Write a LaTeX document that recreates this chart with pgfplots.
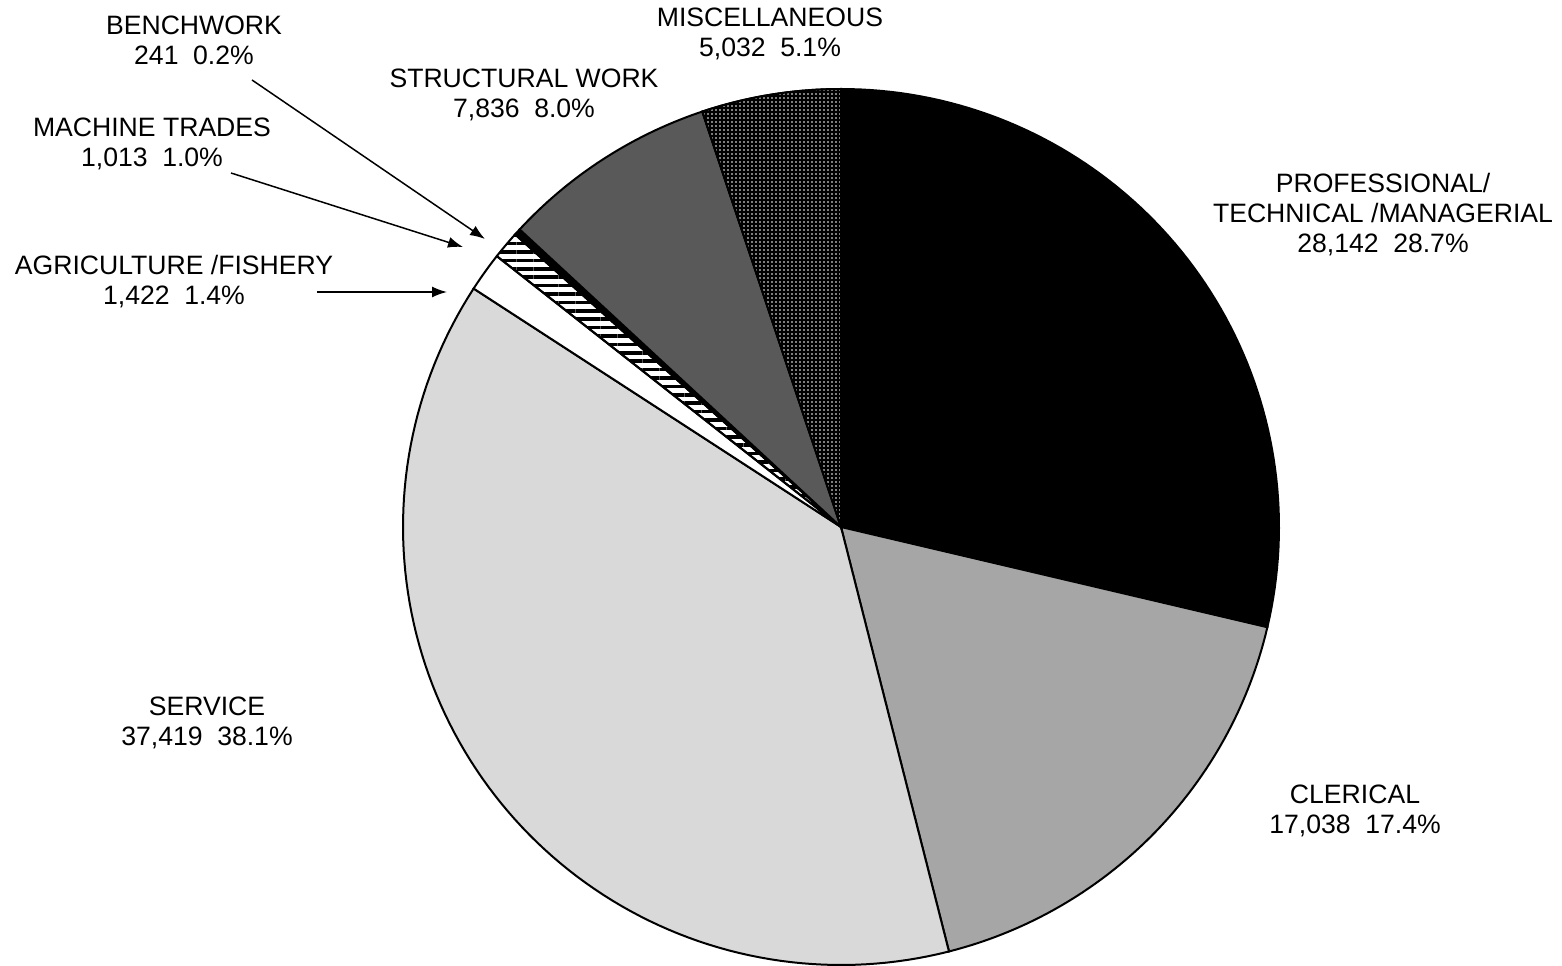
\documentclass[border=0pt]{standalone}
\usepackage{fontspec}
\setmainfont{Liberation Sans}
\usepackage{pgfplots}
\pgfplotsset{compat=1.18}
\usetikzlibrary{patterns,patterns.meta,arrows.meta}

% values (clockwise from 12 o'clock)
\def\vA{28142} % PROFESSIONAL/TECHNICAL/MANAGERIAL
\def\vB{17038} % CLERICAL
\def\vC{37419} % SERVICE
\def\vD{1422}  % AGRICULTURE/FISHERY
\def\vE{1013}  % MACHINE TRADES
\def\vF{241}   % BENCHWORK
\def\vG{7836}  % STRUCTURAL WORK
\def\vH{5032}  % MISCELLANEOUS

\edef\tot{\fpeval{\vA+\vB+\vC+\vD+\vE+\vF+\vG+\vH}}
\edef\aO{90}
\edef\aA{\fpeval{round(\aO-360*\vA/\tot,4)}}
\edef\aB{\fpeval{round(\aA-360*\vB/\tot,4)}}
\edef\aC{\fpeval{round(\aB-360*\vC/\tot,4)}}
\edef\aD{\fpeval{round(\aC-360*\vD/\tot,4)}}
\edef\aE{\fpeval{round(\aD-360*\vE/\tot,4)}}
\edef\aF{\fpeval{round(\aE-360*\vF/\tot,4)}}
\edef\aG{\fpeval{round(\aF-360*\vG/\tot,4)}}
\edef\aH{\fpeval{round(\aG-360*\vH/\tot,4)}}

\definecolor{clerical}{HTML}{A6A6A6}
\definecolor{service}{HTML}{D9D9D9}
\definecolor{structural}{HTML}{595959}

\def\cx{841}
\def\cy{436}
\def\R{438}

\tikzset{lbl/.style={font=\fontsize{13.3}{15}\selectfont, align=center, inner sep=0pt}}

\begin{document}
\begin{tikzpicture}
\begin{axis}[
  hide axis, scale only axis,
  width=781pt, height=481.5pt,
  xmin=0, xmax=1562, ymin=0, ymax=963,
  clip=false,
]
\path (axis cs:0,0) rectangle (axis cs:1562,963);

\addplot[fill=black, draw=black, line width=1pt, domain=\aA:\aO, samples=80]
  ({\cx+\R*cos(x)},{\cy+\R*sin(x)}) -- (axis cs:\cx,\cy) -- cycle;
\addplot[fill=clerical, draw=black, line width=1pt, domain=\aB:\aA, samples=60]
  ({\cx+\R*cos(x)},{\cy+\R*sin(x)}) -- (axis cs:\cx,\cy) -- cycle;
\addplot[fill=service, draw=black, line width=1pt, domain=\aC:\aB, samples=100]
  ({\cx+\R*cos(x)},{\cy+\R*sin(x)}) -- (axis cs:\cx,\cy) -- cycle;
\addplot[fill=white, draw=black, line width=1pt, domain=\aD:\aC, samples=10]
  ({\cx+\R*cos(x)},{\cy+\R*sin(x)}) -- (axis cs:\cx,\cy) -- cycle;
\addplot[pattern={Lines[angle=0,distance=4.2pt,line width=1.8pt]}, pattern color=black, draw=black, line width=1pt, domain=\aE:\aD, samples=10]
  ({\cx+\R*cos(x)},{\cy+\R*sin(x)}) -- (axis cs:\cx,\cy) -- cycle;
\addplot[fill=black, draw=black, line width=1pt, domain=\aF:\aE, samples=5]
  ({\cx+\R*cos(x)},{\cy+\R*sin(x)}) -- (axis cs:\cx,\cy) -- cycle;
\addplot[fill=structural, draw=black, line width=1pt, domain=\aG:\aF, samples=40]
  ({\cx+\R*cos(x)},{\cy+\R*sin(x)}) -- (axis cs:\cx,\cy) -- cycle;
\addplot[fill=black, draw=black, line width=1pt, domain=\aH:\aG, samples=30]
  ({\cx+\R*cos(x)},{\cy+\R*sin(x)}) -- (axis cs:\cx,\cy) -- cycle;
\addplot[pattern={Dots[distance=2pt,radius=0.45pt]}, pattern color=white, draw=black, line width=1pt, domain=\aH:\aG, samples=30]
  ({\cx+\R*cos(x)},{\cy+\R*sin(x)}) -- (axis cs:\cx,\cy) -- cycle;

% labels
\node[lbl] at (axis cs:770,929) {MISCELLANEOUS\\5,032\hspace{0.55em}5.1\%};
\node[lbl] at (axis cs:524,868) {STRUCTURAL WORK\\7,836\hspace{0.55em}8.0\%};
\node[lbl] at (axis cs:194,923) {BENCHWORK\\241\hspace{0.55em}0.2\%};
\node[lbl] at (axis cs:152,819) {MACHINE TRADES\\1,013\hspace{0.55em}1.0\%};
\node[lbl] at (axis cs:174,681) {AGRICULTURE /FISHERY\\1,422\hspace{0.55em}1.4\%};
\node[lbl] at (axis cs:1383,748) {PROFESSIONAL/\\TECHNICAL /MANAGERIAL\\28,142\hspace{0.55em}28.7\%};
\node[lbl] at (axis cs:1355,152) {CLERICAL\\17,038\hspace{0.55em}17.4\%};
\node[lbl] at (axis cs:207,240) {SERVICE\\37,419\hspace{0.55em}38.1\%};

% arrows
\draw[line width=0.75pt, -{Latex[length=7.5pt,width=5.5pt]}] (axis cs:252,883) -- (axis cs:485,724);
\draw[line width=0.75pt, -{Latex[length=7.5pt,width=5.5pt]}] (axis cs:231,790) -- (axis cs:463,716);
\draw[line width=0.75pt, -{Latex[length=7.5pt,width=5.5pt]}] (axis cs:317,671) -- (axis cs:447,671);
\end{axis}
\end{tikzpicture}
\end{document}
